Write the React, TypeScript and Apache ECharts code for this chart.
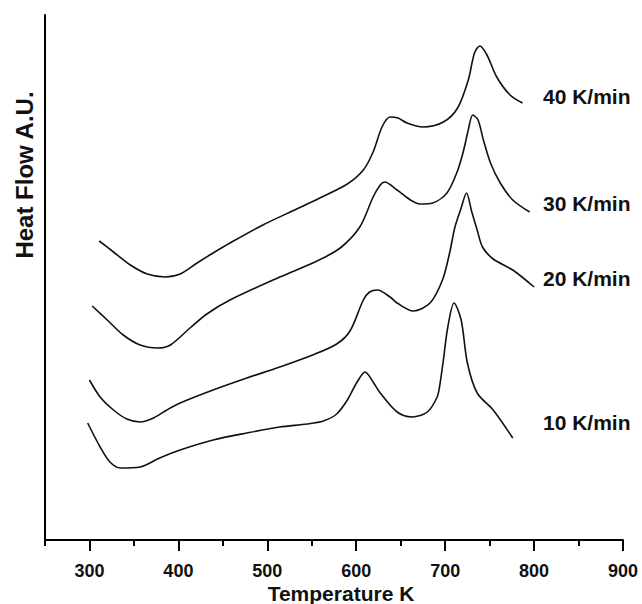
import React, { useEffect, useRef } from "react";
import * as echarts from "echarts";

// Temperature (K) and heat flow (arbitrary units)
const t40 = [311, 327, 346, 365, 385, 402, 421, 439, 458, 495, 533, 559, 590, 608, 619, 629, 638, 647, 657, 675, 698, 714, 726, 733, 739, 747, 758, 773, 787];
const h40 = [299, 288, 275, 266, 263, 266, 277, 287, 297, 315, 331, 342, 356, 370, 388, 413, 423, 422, 417, 413, 418, 432, 460, 487, 494, 485, 463, 445, 437];

const t30 = [303, 320, 338, 357, 377, 391, 413, 432, 458, 514, 556, 582, 604, 619, 627, 632, 646, 661, 672, 686, 702, 713, 720, 726, 731, 737, 743, 751, 762, 776, 795];
const h30 = [234, 220, 205, 195, 192, 195, 212, 226, 240, 263, 279, 292, 313, 343, 355, 358, 350, 340, 336, 337, 347, 367, 387, 410, 425, 420, 400, 377, 357, 340, 328];

const t20 = [300, 312, 327, 342, 357, 372, 387, 402, 439, 477, 514, 551, 578, 593, 608, 615, 624, 638, 646, 664, 683, 697, 705, 711, 718, 724, 730, 736, 742, 754, 776, 800];
const h20 = [160, 143, 130, 121, 118, 122, 130, 137, 150, 162, 173, 185, 196, 209, 240, 248, 250, 243, 237, 229, 237, 260, 287, 313, 332, 347, 328, 310, 293, 281, 270, 253];

const t10 = [298, 312, 323, 335, 357, 379, 402, 439, 477, 514, 545, 563, 578, 590, 601, 610, 619, 627, 646, 663, 680, 691, 694, 698, 703, 710, 718, 725, 736, 754, 776];
const h10 = [117, 93, 78, 72, 73, 82, 90, 100, 107, 113, 116, 119, 126, 140, 158, 168, 158, 147, 128, 123, 128, 143, 155, 180, 213, 237, 220, 177, 147, 130, 102];

const seriesNames = ["40 K/min", "30 K/min", "20 K/min", "10 K/min"];
const xTickValues = [300, 400, 500, 600, 700, 800, 900];
const xTitle = "Temperature K";
const yTitle = "Heat Flow A.U.";

const FONT = "'Liberation Sans', Arial, Helvetica, sans-serif";
const INK = "#111";

function pairs(t: number[], h: number[]) {
  return t.map((v, i) => [v, h[i]]);
}

export default function App() {
  const ref = useRef<HTMLDivElement>(null);

  useEffect(() => {
    document.body.style.margin = "0";
    if (!ref.current) return;
    const chart = echarts.init(ref.current, null, { renderer: "svg" });

    const curves = [
      pairs(t40, h40),
      pairs(t30, h30),
      pairs(t20, h20),
      pairs(t10, h10),
    ];
    const labelY = [96, 203, 278, 422];

    chart.setOption({
      animation: false,
      backgroundColor: "#fff",
      grid: {
        left: 45,
        right: 19,
        top: 15,
        bottom: 64,
        containLabel: false,
        outerBoundsMode: "none",
      },
      xAxis: [
        {
          type: "value",
          position: "bottom",
          min: 250,
          max: 900,
          interval: 50,
          name: xTitle,
          nameLocation: "middle",
          nameGap: 44,
          nameTextStyle: {
            fontFamily: FONT,
            fontWeight: "bold",
            fontSize: 21,
            lineHeight: 18,
            color: INK,
            padding: [0, 0, 0, 14],
          },
          axisLine: { show: true, lineStyle: { color: "#000", width: 2 } },
          axisTick: { show: true, length: 6, lineStyle: { color: "#000", width: 2 } },
          axisLabel: { show: false },
          splitLine: { show: false },
        },
        {
          type: "value",
          position: "bottom",
          min: 250,
          max: 900,
          axisLine: { show: false },
          axisTick: {
            show: true,
            length: 11,
            customValues: xTickValues,
            lineStyle: { color: "#000", width: 2 },
          },
          axisLabel: {
            show: true,
            customValues: xTickValues,
            margin: 24,
            fontFamily: FONT,
            fontWeight: "bold",
            fontSize: 18,
            lineHeight: 14,
            color: INK,
          },
          splitLine: { show: false },
        },
      ],
      yAxis: {
        type: "value",
        min: 0,
        max: 525,
        axisLine: { show: true, lineStyle: { color: "#000", width: 2 } },
        axisTick: { show: false },
        axisLabel: { show: false },
        splitLine: { show: false },
      },
      series: curves.map((data, i) => ({
        name: seriesNames[i],
        type: "line",
        xAxisIndex: 0,
        data,
        smooth: 0.3,
        symbol: "none",
        lineStyle: { color: "#111", width: 1.6 },
      })),
      graphic: [
        {
          type: "text",
          x: 24,
          y: 175,
          rotation: Math.PI / 2,
          style: {
            text: yTitle,
            fontFamily: FONT,
            fontWeight: "bold",
            fontSize: 24,
            fill: INK,
            textAlign: "center",
            textVerticalAlign: "middle",
          },
        },
        ...seriesNames.map((name, i) => ({
          type: "text",
          x: 543,
          y: labelY[i],
          style: {
            text: name,
            fontFamily: FONT,
            fontWeight: "bold",
            fontSize: 21,
            fill: INK,
            textAlign: "left",
            textVerticalAlign: "middle",
          },
        })),
      ],
    });

    return () => chart.dispose();
  }, []);

  return <div ref={ref} style={{ width: 642, height: 604 }} />;
}
